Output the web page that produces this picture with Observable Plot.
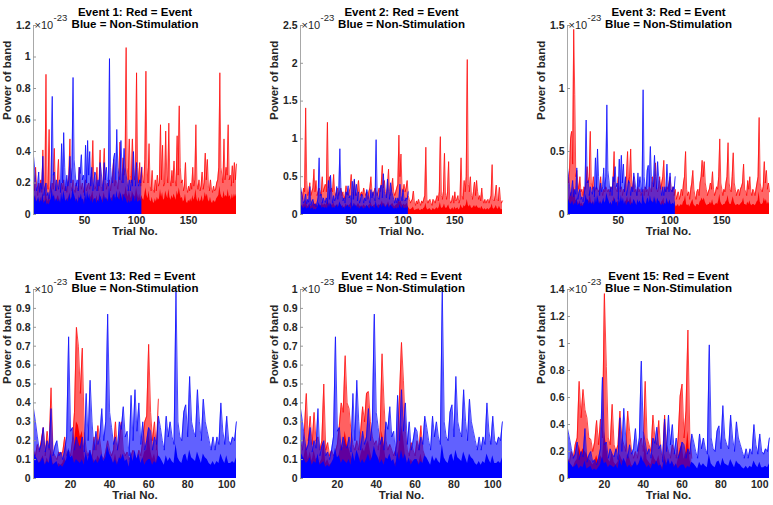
<!DOCTYPE html>
<html><head><meta charset="utf-8">
<script src="https://cdn.jsdelivr.net/npm/d3@7"></script>
<script src="https://cdn.jsdelivr.net/npm/@observablehq/plot@0.6"></script>
<style>
html,body{margin:0;padding:0;background:#fff;overflow:hidden}
#wrap{position:relative;width:773px;height:505px}
.panel{position:absolute}
</style></head><body><div id="wrap"></div>
<script>
// ---------- DATA (power of band, units of 1e-23) ----------
const blueValues = [
 0.37,0.30,0.22,0.15,0.18,0.27,0.14,0.20,0.16,0.37,
 0.12,0.17,0.20,0.12,0.14,0.10,0.15,0.22,0.75,0.25,
 0.27,0.15,0.22,0.18,0.16,0.22,0.14,0.45,0.20,0.52,
 0.30,0.15,0.25,0.18,0.22,0.37,0.20,0.30,0.87,0.35,
 0.27,0.18,0.22,0.15,0.30,0.26,0.38,0.22,0.25,0.12,
 0.44,0.20,0.47,0.25,0.40,0.18,0.30,0.15,0.20,0.27,
 0.25,0.15,0.22,0.18,0.33,0.27,0.20,0.15,0.33,0.22,
 0.30,0.22,0.18,0.99,0.30,0.22,0.20,0.35,0.39,0.22,
 0.54,0.30,0.25,0.22,0.47,0.30,0.20,0.42,0.30,0.25,
 0.20,0.15,0.22,0.15,0.22,0.18,0.40,0.25,0.18,0.33,
 0.20,0.18,0.22,0.20,0.30];
const blueBase = [
 0.14,0.12,0.10,0.08,0.09,0.11,0.07,0.09,0.08,0.13,
 0.07,0.08,0.09,0.06,0.07,0.06,0.08,0.10,0.16,0.11,
 0.12,0.08,0.10,0.09,0.08,0.10,0.07,0.14,0.09,0.15,
 0.12,0.08,0.10,0.08,0.10,0.13,0.09,0.11,0.17,0.13,
 0.11,0.08,0.10,0.07,0.11,0.10,0.13,0.09,0.10,0.06,
 0.14,0.09,0.15,0.10,0.13,0.08,0.11,0.07,0.09,0.10,
 0.10,0.07,0.09,0.08,0.12,0.11,0.09,0.07,0.12,0.09,
 0.11,0.09,0.08,0.18,0.11,0.09,0.08,0.12,0.13,0.09,
 0.15,0.11,0.10,0.09,0.14,0.11,0.08,0.13,0.11,0.10,
 0.08,0.07,0.09,0.07,0.09,0.08,0.13,0.10,0.08,0.12,
 0.08,0.08,0.09,0.08,0.11];

const redE1 = [
 0.20,0.15,0.30,0.18,0.12,0.20,0.15,0.22,0.14,0.41,
 0.18,0.15,0.89,0.20,0.16,0.54,0.18,0.14,0.20,0.16,
 0.42,0.18,0.15,0.22,0.35,0.17,0.14,0.20,0.16,0.22,
 0.15,0.18,0.14,0.20,0.25,0.48,0.18,0.15,0.22,0.16,
 0.14,0.20,0.17,0.15,0.30,0.18,0.16,0.20,0.14,0.18,
 0.22,0.15,0.18,0.20,0.16,0.22,0.25,0.47,0.20,0.16,
 0.18,0.30,0.15,0.20,0.41,0.18,0.15,0.22,0.42,0.20,
 0.16,0.20,0.18,0.22,0.15,0.20,0.25,0.35,0.18,0.22,
 0.20,0.16,0.25,0.46,0.22,0.20,0.36,0.25,0.30,1.06,
 0.30,0.22,0.48,0.25,0.20,0.48,0.30,0.22,0.25,0.90,
 0.30,0.20,0.33,0.18,0.30,0.22,0.20,0.35,0.91,0.30,
 0.20,0.45,0.18,0.15,0.28,0.16,0.14,0.22,0.15,0.25,
 0.18,0.20,0.57,0.22,0.44,0.18,0.20,0.53,0.25,0.20,
 0.58,0.22,0.18,0.28,0.20,0.34,0.22,0.18,0.50,0.25,
 0.69,0.30,0.20,0.22,0.15,0.18,0.33,0.16,0.14,0.18,
 0.15,0.20,0.16,0.30,0.18,0.22,0.57,0.20,0.16,0.22,
 0.15,0.18,0.27,0.16,0.20,0.39,0.22,0.35,0.18,0.15,
 0.22,0.16,0.14,0.18,0.15,0.16,0.20,0.22,0.30,0.90,
 0.30,0.25,0.20,0.48,0.22,0.30,0.25,0.57,0.22,0.25,
 0.18,0.31,0.20,0.33,0.22,0.32];
const redE1Base = [
 0.10,0.08,0.12,0.09,0.07,0.10,0.08,0.11,0.08,0.14,
 0.09,0.08,0.16,0.10,0.08,0.13,0.09,0.07,0.10,0.08,
 0.13,0.09,0.08,0.11,0.12,0.09,0.07,0.10,0.08,0.11,
 0.08,0.09,0.07,0.10,0.11,0.14,0.09,0.08,0.11,0.08,
 0.07,0.10,0.09,0.08,0.12,0.09,0.08,0.10,0.07,0.09,
 0.11,0.08,0.09,0.10,0.08,0.11,0.12,0.15,0.10,0.08,
 0.09,0.12,0.08,0.10,0.14,0.09,0.08,0.11,0.14,0.10,
 0.08,0.10,0.09,0.11,0.08,0.10,0.11,0.13,0.09,0.11,
 0.10,0.08,0.12,0.15,0.11,0.10,0.13,0.12,0.13,0.18,
 0.13,0.11,0.15,0.12,0.10,0.15,0.13,0.11,0.12,0.17,
 0.13,0.10,0.13,0.09,0.12,0.10,0.09,0.13,0.17,0.12,
 0.10,0.15,0.09,0.08,0.11,0.08,0.07,0.10,0.08,0.11,
 0.09,0.10,0.16,0.11,0.14,0.09,0.10,0.15,0.12,0.10,
 0.16,0.11,0.09,0.12,0.10,0.13,0.11,0.09,0.15,0.12,
 0.17,0.13,0.10,0.11,0.08,0.09,0.13,0.08,0.07,0.09,
 0.08,0.10,0.08,0.12,0.09,0.11,0.16,0.10,0.08,0.11,
 0.08,0.09,0.12,0.08,0.10,0.14,0.11,0.13,0.09,0.08,
 0.11,0.08,0.07,0.09,0.08,0.08,0.10,0.11,0.12,0.18,
 0.13,0.11,0.10,0.15,0.11,0.12,0.11,0.16,0.11,0.12,
 0.09,0.13,0.10,0.13,0.11,0.13];

const redE2 = [
 0.25,0.30,0.20,0.35,0.30,1.41,0.45,0.25,0.30,0.42,
 0.25,0.30,0.35,0.60,0.30,0.45,0.25,0.30,0.35,0.30,
 0.25,0.50,0.30,0.35,0.40,0.30,1.22,0.35,0.50,0.30,
 0.35,0.30,0.53,0.30,0.25,0.30,0.35,0.25,0.30,0.35,
 0.25,0.30,0.20,0.25,0.38,0.30,0.25,0.30,0.35,0.53,
 0.30,0.25,0.45,0.30,0.25,0.30,0.45,0.30,0.25,0.30,
 0.25,0.35,0.30,0.25,0.30,0.20,0.30,0.35,0.50,0.30,
 0.25,0.30,0.35,0.30,0.25,0.30,0.35,0.30,0.40,0.65,
 0.35,0.45,0.30,0.25,0.35,0.60,0.30,0.25,0.35,0.48,
 0.30,0.25,0.30,0.35,0.40,1.05,0.50,0.80,0.35,0.30,
 0.40,0.30,0.35,0.45,0.25,0.20,0.15,0.18,0.20,0.31,
 0.15,0.12,0.18,0.14,0.20,0.15,0.12,0.18,0.15,0.20,
 0.25,0.89,0.20,0.15,0.18,0.20,0.15,0.12,0.20,0.18,
 0.15,0.20,0.25,0.18,0.30,1.03,0.25,0.20,0.30,0.81,
 0.25,0.20,0.30,0.70,0.20,0.15,0.18,0.25,0.15,0.30,
 0.18,0.20,0.25,0.15,0.20,0.75,0.25,0.20,0.45,0.30,
 0.50,2.05,0.40,0.30,0.50,0.25,0.20,0.30,0.43,0.25,
 0.45,0.30,0.20,0.25,0.18,0.35,0.20,0.15,0.20,0.15,
 0.18,0.20,0.15,0.20,0.25,0.66,0.20,0.18,0.25,0.39,
 0.20,0.18,0.36,0.20,0.15,0.18];
const redE2Base = [
 0.12,0.13,0.10,0.14,0.12,0.20,0.15,0.10,0.12,0.15,
 0.10,0.12,0.13,0.18,0.12,0.15,0.10,0.12,0.13,0.12,
 0.10,0.16,0.12,0.13,0.14,0.12,0.20,0.13,0.16,0.12,
 0.13,0.12,0.16,0.12,0.10,0.12,0.13,0.10,0.12,0.13,
 0.10,0.12,0.09,0.10,0.14,0.12,0.10,0.12,0.13,0.16,
 0.12,0.10,0.15,0.12,0.10,0.12,0.15,0.12,0.10,0.12,
 0.10,0.13,0.12,0.10,0.12,0.09,0.12,0.13,0.16,0.12,
 0.10,0.12,0.13,0.12,0.10,0.12,0.13,0.12,0.14,0.18,
 0.13,0.15,0.12,0.10,0.13,0.17,0.12,0.10,0.13,0.15,
 0.12,0.10,0.12,0.13,0.14,0.20,0.16,0.18,0.13,0.12,
 0.14,0.12,0.13,0.15,0.10,0.08,0.06,0.07,0.08,0.10,
 0.06,0.05,0.07,0.06,0.08,0.06,0.05,0.07,0.06,0.08,
 0.09,0.15,0.08,0.06,0.07,0.08,0.06,0.05,0.08,0.07,
 0.06,0.08,0.09,0.07,0.10,0.16,0.09,0.08,0.10,0.14,
 0.09,0.08,0.10,0.13,0.08,0.06,0.07,0.09,0.06,0.10,
 0.07,0.08,0.09,0.06,0.08,0.13,0.09,0.08,0.12,0.10,
 0.13,0.20,0.12,0.10,0.13,0.09,0.08,0.10,0.12,0.09,
 0.12,0.10,0.08,0.09,0.07,0.11,0.08,0.06,0.08,0.06,
 0.07,0.08,0.06,0.08,0.09,0.14,0.08,0.07,0.09,0.12,
 0.08,0.07,0.11,0.08,0.06,0.07];

const redE3 = [
 0.30,0.25,0.35,0.60,0.66,0.40,1.47,0.95,0.30,0.35,
 0.25,0.20,0.30,0.18,0.20,0.15,0.22,0.20,0.25,0.38,
 0.25,0.30,0.66,0.25,0.20,0.30,0.18,0.20,0.22,0.20,
 0.18,0.20,0.30,0.20,0.15,0.20,0.18,0.22,0.20,0.18,
 0.20,0.15,0.22,0.20,0.25,0.50,0.22,0.20,0.18,0.30,
 0.20,0.18,0.22,0.15,0.20,0.18,0.25,0.30,0.50,0.25,
 0.30,0.52,0.25,0.20,0.30,0.18,0.20,0.15,0.22,0.18,
 0.20,0.15,0.18,0.20,0.15,0.22,0.18,0.20,0.15,0.22,
 0.20,0.18,0.30,0.22,0.25,0.41,0.20,0.18,0.22,0.30,
 0.20,0.25,0.30,0.43,0.20,0.18,0.22,0.20,0.25,0.30,
 0.20,0.18,0.22,0.15,0.20,0.12,0.15,0.18,0.12,0.15,
 0.20,0.15,0.25,0.30,0.50,0.20,0.15,0.18,0.12,0.20,
 0.25,0.35,0.20,0.15,0.12,0.18,0.20,0.15,0.25,0.30,
 0.43,0.30,0.42,0.25,0.20,0.15,0.18,0.20,0.25,0.20,
 0.34,0.20,0.15,0.18,0.22,0.20,0.30,0.60,0.25,0.20,
 0.15,0.20,0.18,0.25,0.30,0.57,0.25,0.20,0.18,0.30,
 0.49,0.25,0.20,0.15,0.18,0.20,0.15,0.20,0.22,0.25,
 0.40,0.20,0.18,0.15,0.27,0.20,0.30,0.18,0.15,0.20,
 0.18,0.15,0.20,0.25,0.30,0.77,0.25,0.20,0.18,0.22,
 0.42,0.25,0.35,0.20,0.25,0.18];
const redE3Base = [
 0.12,0.10,0.13,0.16,0.18,0.13,0.22,0.18,0.11,0.12,
 0.10,0.08,0.11,0.08,0.09,0.07,0.09,0.08,0.10,0.13,
 0.10,0.11,0.16,0.10,0.08,0.11,0.08,0.09,0.09,0.08,
 0.08,0.09,0.11,0.08,0.07,0.09,0.08,0.09,0.08,0.08,
 0.09,0.07,0.09,0.08,0.10,0.14,0.09,0.08,0.08,0.11,
 0.08,0.08,0.09,0.07,0.08,0.08,0.10,0.11,0.14,0.10,
 0.11,0.14,0.10,0.08,0.11,0.08,0.08,0.07,0.09,0.08,
 0.08,0.07,0.08,0.08,0.07,0.09,0.08,0.08,0.07,0.09,
 0.08,0.08,0.11,0.09,0.10,0.13,0.08,0.08,0.09,0.11,
 0.08,0.10,0.11,0.13,0.08,0.08,0.09,0.08,0.10,0.11,
 0.08,0.08,0.09,0.07,0.08,0.06,0.07,0.08,0.06,0.07,
 0.08,0.07,0.10,0.11,0.15,0.08,0.07,0.08,0.06,0.08,
 0.10,0.12,0.08,0.07,0.06,0.08,0.08,0.07,0.10,0.11,
 0.13,0.11,0.13,0.10,0.08,0.07,0.08,0.08,0.10,0.08,
 0.12,0.08,0.07,0.08,0.09,0.08,0.11,0.16,0.10,0.08,
 0.07,0.08,0.08,0.10,0.11,0.15,0.10,0.08,0.08,0.11,
 0.14,0.10,0.08,0.07,0.08,0.08,0.07,0.08,0.09,0.10,
 0.13,0.08,0.08,0.07,0.10,0.08,0.11,0.08,0.07,0.08,
 0.08,0.07,0.08,0.10,0.11,0.18,0.10,0.08,0.08,0.09,
 0.13,0.10,0.12,0.08,0.10,0.08];

const redE13 = [
 0.15,0.12,0.18,0.14,0.20,0.27,0.12,0.25,0.15,0.48,
 0.14,0.12,0.10,0.14,0.13,0.14,0.22,0.12,0.15,0.12,
 0.20,0.35,0.80,0.70,0.45,0.69,0.25,0.15,0.12,0.15,
 0.10,0.22,0.15,0.28,0.20,0.12,0.10,0.14,0.20,0.15,
 0.12,0.15,0.30,0.15,0.20,0.30,0.15,0.12,0.14,0.10,
 0.12,0.15,0.12,0.10,0.15,0.12,0.20,0.30,0.33,0.71,
 0.35,0.20,0.30,0.15,0.42];
const redE13Base = [
 0.08,0.07,0.09,0.08,0.10,0.12,0.07,0.11,0.08,0.16,
 0.08,0.07,0.06,0.08,0.07,0.08,0.11,0.07,0.08,0.07,
 0.10,0.18,0.30,0.28,0.22,0.25,0.12,0.08,0.07,0.08,
 0.06,0.10,0.08,0.12,0.10,0.07,0.06,0.08,0.10,0.08,
 0.07,0.08,0.13,0.08,0.10,0.13,0.08,0.07,0.08,0.06,
 0.07,0.08,0.07,0.06,0.08,0.07,0.10,0.14,0.15,0.25,
 0.15,0.10,0.13,0.08,0.16];

const redE14 = [
 0.20,0.15,0.25,0.45,0.20,0.33,0.18,0.35,0.20,0.22,
 0.15,0.20,0.50,0.15,0.19,0.12,0.15,0.12,0.14,0.18,
 0.28,0.40,0.35,0.65,0.40,0.37,0.25,0.18,0.15,0.20,
 0.15,0.25,0.38,0.30,0.45,0.46,0.30,0.22,0.18,0.20,
 0.15,0.25,0.66,0.40,0.20,0.15,0.18,0.15,0.12,0.15,
 0.20,0.44,0.72,0.52,0.25,0.15,0.12,0.19,0.15,0.12,
 0.20,0.15,0.28,0.15,0.12];
const redE14Base = [
 0.10,0.08,0.12,0.18,0.10,0.14,0.09,0.15,0.10,0.11,
 0.08,0.10,0.20,0.08,0.10,0.07,0.08,0.07,0.08,0.09,
 0.13,0.18,0.16,0.25,0.18,0.16,0.12,0.09,0.08,0.10,
 0.08,0.12,0.16,0.14,0.18,0.20,0.14,0.10,0.09,0.10,
 0.08,0.12,0.25,0.18,0.10,0.08,0.09,0.08,0.07,0.08,
 0.10,0.18,0.28,0.22,0.12,0.08,0.07,0.10,0.08,0.07,
 0.10,0.08,0.13,0.08,0.07];

const redE15 = [
 0.15,0.12,0.20,0.15,0.25,0.30,0.72,0.45,0.66,0.51,
 0.45,0.30,0.29,0.20,0.27,0.43,0.25,0.44,0.30,1.37,
 0.83,0.30,0.25,0.55,0.25,0.20,0.25,0.50,0.30,0.25,
 0.20,0.50,0.35,0.20,0.15,0.20,0.15,0.25,0.30,0.20,
 0.72,0.30,0.25,0.20,0.47,0.30,0.25,0.43,0.20,0.15,
 0.47,0.25,0.20,0.15,0.25,0.20,0.15,0.30,0.61,0.70,
 0.30,0.50,1.10,0.30,0.15];
const redE15Base = [
 0.08,0.07,0.10,0.08,0.12,0.14,0.25,0.18,0.22,0.20,
 0.18,0.14,0.13,0.10,0.12,0.17,0.12,0.17,0.14,0.35,
 0.25,0.14,0.12,0.20,0.12,0.10,0.12,0.18,0.14,0.12,
 0.10,0.18,0.15,0.10,0.08,0.10,0.08,0.12,0.14,0.10,
 0.25,0.14,0.12,0.10,0.18,0.14,0.12,0.17,0.10,0.08,
 0.18,0.12,0.10,0.08,0.12,0.10,0.08,0.14,0.22,0.25,
 0.14,0.20,0.35,0.14,0.08];

const eventNames = ["Event 1", "Event 2", "Event 3", "Event 13", "Event 14", "Event 15"];
const yMaxes = [1.2, 2.5, 1.5, 1, 1, 1.4];
const yTicksE1 = [0, 0.2, 0.4, 0.6, 0.8, 1, 1.2];
const yTicksE2 = [0, 0.5, 1, 1.5, 2, 2.5];
const yTicksE3 = [0, 0.5, 1, 1.5];
const yTicksE13 = [0, 0.1, 0.2, 0.3, 0.4, 0.5, 0.6, 0.7, 0.8, 0.9, 1];
const yTicksE14 = [0, 0.1, 0.2, 0.3, 0.4, 0.5, 0.6, 0.7, 0.8, 0.9, 1];
const yTicksE15 = [0, 0.2, 0.4, 0.6, 0.8, 1, 1.2, 1.4];
const xTicksTop = [50, 100, 150];
const xTicksBottom = [20, 40, 60, 80, 100];
const xMaxTop = 196, xMaxBottom = 105;

// ---------- DRAW ----------
const FONT = '"Liberation Sans", Arial, Helvetica, sans-serif';
const fmt = d3.format("~g");
const wrap = document.getElementById("wrap");

function drawPanel(name, red, redBase, yMax, yTicks, xMax, xTicks, pos) {
  const redRows = red.map((v, i) => ({t: i + 1, v, b: redBase[i]}));
  const blueRows = blueValues.map((v, i) => ({t: i + 1, v, b: blueBase[i]}));
  const ml = 33, mr = 3;
  const chart = Plot.plot({
    width: ml + pos.pw + mr,
    height: pos.mt + pos.ph + pos.mb,
    marginLeft: ml, marginRight: mr, marginTop: pos.mt, marginBottom: pos.mb,
    style: {fontFamily: FONT, fontSize: "10.5px", fontWeight: "bold", background: "transparent", overflow: "visible", maxWidth: "none"},
    x: {domain: [1, xMax]},
    y: {domain: [0, yMax]},
    marks: [
      Plot.areaY(redRows, {x: "t", y: "v", fill: "#ff0000", fillOpacity: pos.pale}),
      Plot.lineY(redRows, {x: "t", y: "v", stroke: "#ff0000", strokeWidth: 0.8, strokeOpacity: 0.9}),
      Plot.areaY(redRows, {x: "t", y: "b", fill: "#ff0000"}),
      Plot.areaY(blueRows, {x: "t", y: "v", fill: "#0000ff", fillOpacity: pos.pale}),
      Plot.lineY(blueRows, {x: "t", y: "v", stroke: "#0000ff", strokeWidth: 0.8, strokeOpacity: 0.9}),
      Plot.areaY(blueRows, {x: "t", y: "b", fill: "#0000ff"}),
      Plot.ruleX([1], {stroke: "#a8a8a8", strokeWidth: 1}),
      Plot.axisY({ticks: yTicks, tickFormat: fmt, tickSize: -3, tickPadding: 6, stroke: "#999", fill: "#262626", label: null}),
      Plot.axisX({ticks: xTicks, tickSize: 0, tickPadding: 2, fill: "#262626", label: null}),
      Plot.text([name + ": Red = Event"], {text: d => d, frameAnchor: "top", dy: -18, fontSize: 11.5, fill: "#000"}),
      Plot.text(["Blue = Non-Stimulation"], {text: d => d, frameAnchor: "top", dy: -6, fontSize: 11.5, fill: "#000"}),
      Plot.text(["Power of band"], {text: d => d, frameAnchor: "left", dx: -26, rotate: -90, fontSize: 11.5, fill: "#262626"}),
      Plot.text(["Trial No."], {text: d => d, frameAnchor: "bottom", dy: 20.5, fontSize: 11.5, fill: "#262626"}),
      Plot.text(["\u00d710"], {text: d => d, frameAnchor: "top-left", textAnchor: "start", dx: 1, dy: -4.5, fontSize: 11, fontWeight: "normal", fill: "#262626"}),
      Plot.text(["-23"], {text: d => d, frameAnchor: "top-left", textAnchor: "start", dx: 20, dy: -11, fontSize: 9.5, fontWeight: "normal", fill: "#262626"})
    ]
  });
  const div = document.createElement("div");
  div.className = "panel";
  div.style.left = pos.left + "px";
  div.style.top = pos.top + "px";
  div.appendChild(chart);
  wrap.appendChild(div);
}

const topRow = {top: 0, mt: 25, ph: 189, mb: 31, pale: 0.6};
const botRow = {top: 263, mt: 26, ph: 189, mb: 30, pale: 0.62};
const cols = [{left: 0, pw: 203}, {left: 267, pw: 202}, {left: 534, pw: 202}];

drawPanel(eventNames[0], redE1, redE1Base, yMaxes[0], yTicksE1, xMaxTop, xTicksTop, {...topRow, ...cols[0]});
drawPanel(eventNames[1], redE2, redE2Base, yMaxes[1], yTicksE2, xMaxTop, xTicksTop, {...topRow, ...cols[1]});
drawPanel(eventNames[2], redE3, redE3Base, yMaxes[2], yTicksE3, xMaxTop, xTicksTop, {...topRow, ...cols[2]});
drawPanel(eventNames[3], redE13, redE13Base, yMaxes[3], yTicksE13, xMaxBottom, xTicksBottom, {...botRow, ...cols[0]});
drawPanel(eventNames[4], redE14, redE14Base, yMaxes[4], yTicksE14, xMaxBottom, xTicksBottom, {...botRow, ...cols[1]});
drawPanel(eventNames[5], redE15, redE15Base, yMaxes[5], yTicksE15, xMaxBottom, xTicksBottom, {...botRow, ...cols[2]});
</script></body></html>
